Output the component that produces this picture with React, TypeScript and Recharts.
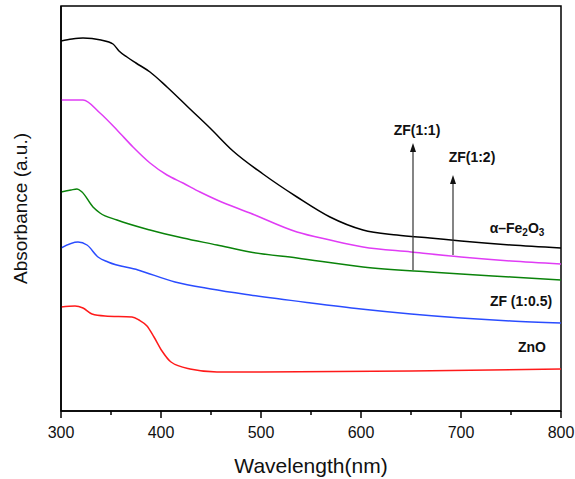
import React from 'react'
import { LineChart, Line, XAxis, YAxis, ReferenceArea, ReferenceLine, ReferenceDot } from 'recharts'

// wavelength (nm), absorbance (a.u.)
const fe2o3: [number, number][] = [
  [300, 3.70], [311, 3.72], [322, 3.73], [340, 3.71], [352, 3.67], [358, 3.60], [366, 3.54],
  [375, 3.48], [389, 3.39], [406, 3.24], [429, 3.02], [449, 2.83], [472, 2.60], [502, 2.37],
  [536, 2.14], [569, 1.94], [602, 1.81], [636, 1.76], [669, 1.73], [700, 1.70],
  [750, 1.66], [800, 1.63]
]
const zf12: [number, number][] = [
  [300, 3.11], [322, 3.11], [339, 2.98], [356, 2.81], [372, 2.64], [389, 2.48], [406, 2.36],
  [422, 2.28], [439, 2.19], [456, 2.11], [489, 1.98], [536, 1.79], [569, 1.71], [602, 1.64],
  [650, 1.59], [700, 1.54], [750, 1.50], [800, 1.47]
]
const zf11: [number, number][] = [
  [300, 2.19], [310, 2.21], [316, 2.22], [321, 2.19], [332, 2.04], [339, 1.98], [356, 1.91],
  [389, 1.81], [422, 1.73], [456, 1.66], [489, 1.59], [536, 1.53], [602, 1.44], [669, 1.39],
  [700, 1.37], [750, 1.34], [800, 1.31]
]
const zf105: [number, number][] = [
  [300, 1.63], [317, 1.69], [326, 1.66], [337, 1.54], [347, 1.49], [377, 1.41], [414, 1.29],
  [450, 1.22], [489, 1.16], [550, 1.08], [600, 1.02], [650, 0.97], [700, 0.93], [750, 0.90],
  [800, 0.88]
]
const zno: [number, number][] = [
  [300, 1.04], [314, 1.05], [322, 1.03], [331, 0.97], [344, 0.95], [371, 0.94], [378, 0.91],
  [386, 0.85], [393, 0.74], [401, 0.60], [410, 0.49], [429, 0.42], [456, 0.39], [500, 0.39],
  [650, 0.40], [800, 0.42]
]

const xTicks = [300, 350, 400, 450, 500, 550, 600, 650, 700, 750, 800]

const toRows = (pts: [number, number][]) => pts.map(([wl, v]) => ({ wl, v }))

const font = '"Liberation Sans", Arial, sans-serif'

function XTick(props: any) {
  const { x, y, payload } = props
  const major = payload.value % 100 === 0
  return (
    <g>
      <line x1={x} y1={y} x2={x} y2={y + (major ? 7 : 4)} stroke="#000" strokeWidth={1.5} />
      {major && (
        <text x={x} y={y + 27} textAnchor="middle" fontSize={16} fontFamily={font} fill="#111">
          {payload.value}
        </text>
      )}
    </g>
  )
}

function Arrow(props: any) {
  const { x1, y1, x2, y2 } = props
  const top = Math.min(y1, y2)
  const bot = Math.max(y1, y2)
  return (
    <g>
      <line x1={x1} y1={bot} x2={x2} y2={top + 8} stroke="#333" strokeWidth={1.2} />
      <polygon points={`${x1 - 3},${top + 9} ${x1 + 3},${top + 9} ${x1},${top}`} fill="#111" />
    </g>
  )
}

const tag = (content: React.ReactNode) => (p: any) => (
  <text x={p.cx} y={p.cy} textAnchor="middle" dominantBaseline="central" fontSize={14}
    fontWeight="bold" fontFamily={font} fill="#111">
    {content}
  </text>
)

function YTitle(props: any) {
  const { viewBox } = props
  const cy = viewBox.y + viewBox.height / 2
  return (
    <text x={20} y={cy} transform={`rotate(-90, 20, ${cy})`} textAnchor="middle"
      dominantBaseline="central" fontSize={19} fontFamily={font} fill="#111">
      Absorbance (a.u.)
    </text>
  )
}

export default function App(): JSX.Element {
  return (
    <div style={{ position: 'absolute', left: 0, top: 0, background: '#fff' }}>
      <LineChart width={575} height={479} margin={{ top: 6, right: 14, bottom: 0, left: 0 }}>
        <XAxis dataKey="wl" type="number" domain={[300, 800]} ticks={xTicks} allowDataOverflow
          tickLine={false} tickSize={0} tickMargin={0} tick={<XTick />} height={68}
          axisLine={{ stroke: '#000', strokeWidth: 1.5 }}
          label={{ value: 'Wavelength(nm)', position: 'insideBottom', offset: 6, fontSize: 21, fill: '#111', fontFamily: font }} />
        <YAxis type="number" domain={[0, 4.05]} tick={false} tickLine={false} width={61}
          axisLine={{ stroke: '#000', strokeWidth: 1.5 }}
          label={<YTitle />} />
        <ReferenceArea x1={300} x2={800} y1={0} y2={4.05} fill="none" stroke="#000" strokeWidth={1.5} fillOpacity={0} />
        <Line data={toRows(fe2o3)} dataKey="v" stroke="#000000" strokeWidth={1.5} dot={false} isAnimationActive={false} type="monotone" />
        <Line data={toRows(zf12)} dataKey="v" stroke="#e03cf5" strokeWidth={1.5} dot={false} isAnimationActive={false} type="monotone" />
        <Line data={toRows(zf11)} dataKey="v" stroke="#0a830a" strokeWidth={1.5} dot={false} isAnimationActive={false} type="monotone" />
        <Line data={toRows(zf105)} dataKey="v" stroke="#2a4cff" strokeWidth={1.5} dot={false} isAnimationActive={false} type="monotone" />
        <Line data={toRows(zno)} dataKey="v" stroke="#ff1a1a" strokeWidth={1.5} dot={false} isAnimationActive={false} type="monotone" />
        <ReferenceLine segment={[{ x: 652, y: 1.41 }, { x: 652, y: 2.68 }]} shape={<Arrow />} />
        <ReferenceLine segment={[{ x: 692, y: 1.56 }, { x: 692, y: 2.36 }]} shape={<Arrow />} />
        <ReferenceDot x={656} y={2.81} r={0} shape={tag('ZF(1:1)')} />
        <ReferenceDot x={711} y={2.54} r={0} shape={tag('ZF(1:2)')} />
        <ReferenceDot x={756} y={1.83} r={0} shape={tag(
          <>
            <tspan>α–Fe</tspan>
            <tspan dy={4} fontSize={10}>2</tspan>
            <tspan dy={-4}>O</tspan>
            <tspan dy={4} fontSize={10}>3</tspan>
          </>
        )} />
        <ReferenceDot x={760} y={1.10} r={0} shape={tag('ZF (1:0.5)')} />
        <ReferenceDot x={771} y={0.64} r={0} shape={tag('ZnO')} />
      </LineChart>
    </div>
  )
}
